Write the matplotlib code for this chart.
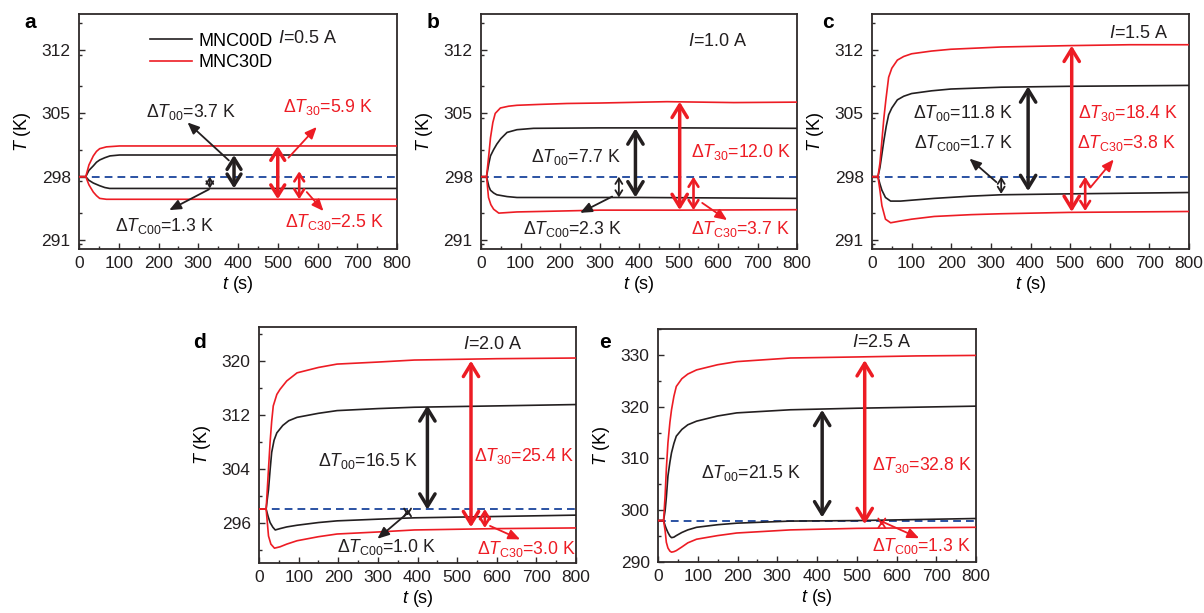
import matplotlib
matplotlib.use('Agg')
import matplotlib.pyplot as plt
from matplotlib.lines import Line2D
from matplotlib.ticker import MultipleLocator

plt.rcParams['font.family'] = ['Liberation Sans', 'DejaVu Sans']
plt.rcParams['mathtext.fontset'] = 'custom'
plt.rcParams['mathtext.rm'] = 'Liberation Sans'
plt.rcParams['mathtext.it'] = 'Liberation Sans:italic'
plt.rcParams['mathtext.bf'] = 'Liberation Sans:bold'

BLACK = '#231f20'
RED = '#ed1c24'
BLUE = '#2b52a3'
FRAME = '#2e2a2a'
T_AMB = 298

# ---------------- data ----------------
# panel a, I = 0.5 A
a_t_bu = [0, 17, 25, 36, 44, 52, 65, 78, 102, 200, 400, 600, 800]
a_T_bu = [298, 298, 298.7, 299.2, 299.6, 299.85, 300.1, 300.3, 300.4, 300.4, 300.4, 300.4, 300.4]
a_t_ru = [0, 17, 25, 36, 44, 52, 69, 102, 200, 400, 600, 800]
a_T_ru = [298, 298, 299.3, 300.3, 300.8, 301.1, 301.3, 301.4, 301.4, 301.4, 301.4, 301.4]
a_t_bl = [0, 17, 25, 36, 52, 65, 77, 100, 200, 400, 600, 800]
a_T_bl = [298, 298, 297.6, 297.3, 297.0, 296.8, 296.7, 296.7, 296.7, 296.7, 296.7, 296.7]
a_t_rl = [0, 17, 25, 36, 44, 52, 69, 100, 200, 400, 600, 800]
a_T_rl = [298, 298, 297.1, 296.3, 295.9, 295.6, 295.5, 295.5, 295.5, 295.5, 295.5, 295.5]

# panel b, I = 1.0 A
b_t_ru = [0, 14, 20, 24, 30, 36, 49, 70, 91, 150, 218, 300, 471, 640, 800]
b_T_ru = [298, 298, 300.5, 302.3, 304.0, 305.0, 305.6, 305.8, 305.9, 306.0, 306.1, 306.15, 306.3, 306.2, 306.25]
b_t_bu = [0, 14, 20, 24, 32, 40, 50, 66, 91, 133, 300, 500, 800]
b_T_bu = [298, 298, 299.5, 300.3, 301.0, 301.6, 302.2, 302.9, 303.2, 303.35, 303.4, 303.4, 303.35]
b_t_bl = [0, 14, 20, 24, 32, 40, 66, 91, 200, 400, 600, 800]
b_T_bl = [298, 298, 296.9, 296.5, 296.2, 296.0, 295.8, 295.7, 295.7, 295.7, 295.65, 295.6]
b_t_rl = [0, 14, 19, 25, 32, 45, 91, 200, 302, 500, 800]
b_T_rl = [298, 298, 295.7, 294.9, 294.4, 293.97, 294.1, 294.2, 294.3, 294.3, 294.35]

# panel c, I = 1.5 A
c_t_ru = [0, 15, 20, 25, 30, 35, 42, 50, 64, 80, 100, 150, 199, 326, 496, 650, 800]
c_T_ru = [298, 298, 299.5, 302, 304.5, 306.5, 309, 310, 310.9, 311.3, 311.6, 311.9, 312.1, 312.35, 312.5, 312.6, 312.6]
c_t_bu = [0, 15, 20, 25, 30, 36, 42, 50, 64, 80, 100, 150, 199, 326, 496, 800]
c_T_bu = [298, 298, 299, 300.5, 302, 303.6, 304.85, 305.6, 306.5, 306.9, 307.2, 307.5, 307.7, 307.9, 308.0, 308.1]
c_t_bl = [0, 15, 20, 25, 34, 47, 72, 100, 157, 250, 326, 496, 800]
c_T_bl = [298, 298, 297.2, 296.5, 295.7, 295.3, 295.3, 295.4, 295.6, 295.85, 296.0, 296.1, 296.25]
c_t_rl = [0, 15, 20, 25, 34, 47, 72, 100, 157, 250, 326, 496, 800]
c_T_rl = [298, 298, 296.5, 294.8, 293.3, 292.9, 293.1, 293.3, 293.6, 293.8, 293.9, 294.05, 294.15]

# panel d, I = 2.0 A
d_t_ru = [0, 18, 23, 28, 32, 36, 45, 53, 70, 96, 150, 197, 300, 392, 600, 800]
d_T_ru = [298, 298, 303, 307.9, 311, 313.3, 315, 315.75, 317, 318.2, 319.0, 319.5, 319.8, 320.1, 320.3, 320.4]
d_t_bu = [0, 18, 21, 24, 28, 32, 38, 45, 60, 75, 96, 150, 197, 300, 392, 600, 800]
d_T_bu = [298, 298, 299.5, 300.9, 303.8, 306.4, 308.2, 309.3, 310.4, 311.1, 311.6, 312.2, 312.6, 312.9, 313.1, 313.3, 313.5]
d_t_bl = [0, 18, 23, 28, 35, 41, 53, 70, 96, 150, 197, 300, 392, 600, 800]
d_T_bl = [298, 298, 296.9, 296, 295.3, 294.9, 295.1, 295.35, 295.6, 296.0, 296.25, 296.5, 296.7, 296.9, 297.1]
d_t_rl = [0, 18, 21, 24, 30, 39, 53, 70, 96, 150, 197, 300, 392, 600, 800]
d_T_rl = [298, 298, 296, 294, 292.8, 292.2, 292.4, 292.8, 293.3, 293.9, 294.3, 294.6, 294.9, 295.1, 295.2]

# panel e, I = 2.5 A
e_t = [0, 14, 18, 21, 25, 30, 34, 40, 46, 60, 75, 97, 150, 198, 333, 500, 650, 800]
e_T_ru = [298, 298, 303, 308, 313, 317, 319.4, 322, 323.9, 325.4, 326.3, 327.1, 328.1, 328.7, 329.4, 329.6, 329.8, 329.9]
e_T_bu = [298, 298, 300, 302.5, 306.6, 309.3, 311.1, 312.9, 314.3, 315.6, 316.5, 317.2, 318.2, 318.8, 319.4, 319.7, 319.9, 320.1]
e_T_bl = [298, 298, 297, 296.4, 295.7, 295, 294.7, 294.8, 295.1, 295.7, 296.2, 296.7, 297.2, 297.5, 297.9, 298.0, 298.2, 298.4]
e_T_rl = [298, 298, 296, 293.8, 292.7, 292.1, 291.9, 292.0, 292.2, 292.9, 293.7, 294.4, 295.1, 295.6, 296.2, 296.5, 296.6, 296.7]

currents = ['0.5', '1.0', '1.5', '2.0', '2.5']
panel_letters = ['a', 'b', 'c', 'd', 'e']
ylims = [(290, 316), (290, 316), (290, 316), (290, 325), (290, 335)]
yticks = [[291, 298, 305, 312]] * 3 + [[296, 304, 312, 320], [290, 300, 310, 320, 330]]
yminor = [3.5, 3.5, 3.5, 4, 5]
xticks = [0, 100, 200, 300, 400, 500, 600, 700, 800]

curves = [
    [(a_t_bu, a_T_bu, BLACK), (a_t_bl, a_T_bl, BLACK), (a_t_ru, a_T_ru, RED), (a_t_rl, a_T_rl, RED)],
    [(b_t_bu, b_T_bu, BLACK), (b_t_bl, b_T_bl, BLACK), (b_t_ru, b_T_ru, RED), (b_t_rl, b_T_rl, RED)],
    [(c_t_bu, c_T_bu, BLACK), (c_t_bl, c_T_bl, BLACK), (c_t_ru, c_T_ru, RED), (c_t_rl, c_T_rl, RED)],
    [(d_t_bu, d_T_bu, BLACK), (d_t_bl, d_T_bl, BLACK), (d_t_ru, d_T_ru, RED), (d_t_rl, d_T_rl, RED)],
    [(e_t, e_T_bu, BLACK), (e_t, e_T_bl, BLACK), (e_t, e_T_ru, RED), (e_t, e_T_rl, RED)],
]

# double arrows: (t, T_top, T_bottom, colour, size)
double_arrows = [
    [(390, 300.4, 296.7, BLACK, 'M'), (329, 298, 296.7, BLACK, 'S'), (500, 301.4, 295.5, RED, 'M'), (554, 298.6, 295.5, RED, 'S2')],
    [(391, 303.35, 295.7, BLACK, 'L'), (349, 298, 295.7, BLACK, 'S'), (503, 306.3, 294.3, RED, 'L'), (538, 298, 294.3, RED, 'S2')],
    [(394, 308.0, 296.4, BLACK, 'L'), (326, 298, 296.1, BLACK, 'S'), (504, 312.5, 294.1, RED, 'L'), (538, 298, 294.2, RED, 'S2')],
    [(425, 313.4, 297.9, BLACK, 'L'), (375, 298, 297.0, BLACK, 'S'), (535, 320.0, 295.3, RED, 'L'), (570, 298, 295.2, RED, 'S2')],
    [(413, 319.4, 298.6, BLACK, 'L'), (520, 329.0, 297.3, RED, 'L'), (563, 298, 297.0, RED, 'S')],
]
# pointer arrows: (t_from, T_from, t_to, T_to, colour)
pointers = [
    [(377, 299.8, 273, 304.0, BLACK), (327, 296.6, 227, 294.3, BLACK), (527, 300.1, 598, 303.5, RED), (573, 296.3, 615, 294.2, RED)],
    [(332, 295.8, 251, 294.0, BLACK), (560, 295.1, 623, 293.2, RED)],
    [(314, 297.4, 246, 300.0, BLACK), (551, 296.8, 610, 299.9, RED)],
    [(375, 297.4, 299, 293.6, BLACK), (583, 295.5, 659, 293.5, RED)],
    [(564, 297.8, 657, 294.6, RED)],
]
# labels: (t, T, text, colour)
labels = [
    [(282, 305.2, r'$\Delta T_{00}$=3.7 K', BLACK), (627, 305.7, r'$\Delta T_{30}$=5.9 K', RED),
     (215, 292.5, r'$\Delta T_{\mathrm{C00}}$=1.3 K', BLACK), (642, 293.0, r'$\Delta T_{\mathrm{C30}}$=2.5 K', RED)],
    [(240, 300.2, r'$\Delta T_{00}$=7.7 K', BLACK), (659, 300.7, r'$\Delta T_{30}$=12.0 K', RED),
     (231, 292.2, r'$\Delta T_{\mathrm{C00}}$=2.3 K', BLACK), (657, 292.2, r'$\Delta T_{\mathrm{C30}}$=3.7 K', RED)],
    [(230, 305.0, r'$\Delta T_{00}$=11.8 K', BLACK), (230, 301.7, r'$\Delta T_{\mathrm{C00}}$=1.7 K', BLACK),
     (645, 305.0, r'$\Delta T_{30}$=18.4 K', RED), (642, 301.7, r'$\Delta T_{\mathrm{C30}}$=3.8 K', RED)],
    [(275, 305.1, r'$\Delta T_{00}$=16.5 K', BLACK), (669, 305.9, r'$\Delta T_{30}$=25.4 K', RED),
     (322, 292.4, r'$\Delta T_{\mathrm{C00}}$=1.0 K', BLACK), (676, 292.05, r'$\Delta T_{\mathrm{C30}}$=3.0 K', RED)],
    [(233, 307.2, r'$\Delta T_{00}$=21.5 K', BLACK), (665, 308.8, r'$\Delta T_{30}$=32.8 K', RED),
     (664, 293.0, r'$\Delta T_{\mathrm{C00}}$=1.3 K', RED)],
]
current_pos = [None, (599, 313.0), (674, 313.8), (589, 322.4), (562, 332.4)]

# ---------------- layout ----------------
W, H = 1204, 613
fig = plt.figure(figsize=(W / 100, H / 100), dpi=100)
boxes_px = [(79, 14, 397, 249), (481, 14, 797, 249), (872, 14, 1189, 249),
            (259, 327, 576, 563), (658, 329, 976, 562)]
letter_px = [(30, 23), (433, 23), (828, 23), (200, 342), (605, 342)]

arrow_styles = {
    'L': dict(lw=2.5, hl=0.9, hw=0.55),
    'M': dict(lw=2.5, hl=0.8, hw=0.5),
    'S2': dict(lw=1.9, hl=0.55, hw=0.35),
    'S': dict(lw=1.3, hl=0.4, hw=0.25),
}

for i in range(5):
    x0, y0, x1, y1 = boxes_px[i]
    ax = fig.add_axes([x0 / W, 1 - y1 / H, (x1 - x0) / W, (y1 - y0) / H])
    for t, T, col in curves[i]:
        ax.plot(t, T, color=col, lw=1.2, zorder=3)
    ax.axhline(T_AMB, color=BLUE, lw=1.4, dashes=(4, 2.6), zorder=2)
    ax.set_xlim(0, 800)
    ax.set_ylim(*ylims[i])
    ax.set_xticks(xticks)
    ax.set_yticks(yticks[i])
    ax.xaxis.set_minor_locator(MultipleLocator(50))
    ax.yaxis.set_minor_locator(MultipleLocator(yminor[i]))
    ax.tick_params(which='both', direction='in', colors=FRAME, labelcolor='#231f20',
                   labelsize=12.5, width=1.0)
    ax.tick_params(which='major', length=4)
    ax.tick_params(which='minor', length=2.5)
    ax.tick_params(axis='y', pad=6)
    ax.tick_params(axis='x', pad=5)
    for s in ax.spines.values():
        s.set_color(FRAME)
        s.set_linewidth(1.3)
    ax.set_xlabel(r'$t$ (s)', fontsize=13, labelpad=2)
    ax.set_ylabel(r'$T$ (K)', fontsize=13, labelpad=6)

    for t, top, bot, col, sz in double_arrows[i]:
        st = arrow_styles[sz]
        ax.annotate('', xy=(t, top), xytext=(t, bot),
                    arrowprops=dict(arrowstyle=f"<->,head_length={st['hl']},head_width={st['hw']}",
                                    color=col, lw=st['lw'], shrinkA=0, shrinkB=0,
                                    mutation_scale=10), zorder=5)
    for tf, Tf, tt, Tt, col in pointers[i]:
        ax.annotate('', xy=(tt, Tt), xytext=(tf, Tf),
                    arrowprops=dict(arrowstyle="-|>,head_length=0.7,head_width=0.3",
                                    color=col, lw=1.3, shrinkA=0, shrinkB=0,
                                    mutation_scale=10), zorder=5)
    for t, T, txt, col in labels[i]:
        ax.text(t, T, txt, color=col, fontsize=12.7, ha='center', va='center', zorder=6)
    if current_pos[i] is not None:
        ax.text(current_pos[i][0], current_pos[i][1], f'$I$={currents[i]} A',
                fontsize=13, ha='center', va='center', color=BLACK)
    else:
        handles = [Line2D([], [], color=BLACK, lw=1.2), Line2D([], [], color=RED, lw=1.2)]
        ax.legend(handles, ['MNC00D', 'MNC30D'], loc='upper left', bbox_to_anchor=(0.185, 0.975),
                  frameon=False, fontsize=13, handlelength=2.3, handletextpad=0.35,
                  labelspacing=0.25, borderaxespad=0.3)
        ax.text(0.625, 0.895, f'$I$={currents[i]} A', transform=ax.transAxes,
                fontsize=13, ha='left', va='center', color=BLACK)

    lx, ly = letter_px[i]
    fig.text(lx / W, 1 - ly / H, panel_letters[i], fontsize=15, fontweight='bold',
             ha='center', va='center', color='black')

fig.savefig('out.png', dpi=100)
